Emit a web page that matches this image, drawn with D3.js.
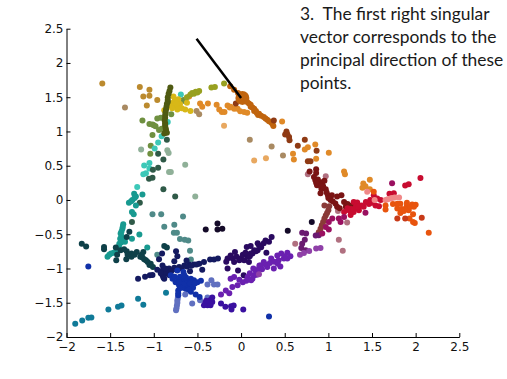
<!DOCTYPE html>
<html>
<head>
<meta charset="utf-8">
<script src="https://cdn.jsdelivr.net/npm/d3@7"></script>
<style>
body { margin: 0; background: #fff; }
svg { display: block; }
.tick text { font-family: "DejaVu Sans", sans-serif; font-size: 12px; fill: #111; }
.note { font-family: Lato, sans-serif; font-size: 17.4px; fill: #1a1a1a; white-space: pre; }
</style>
</head>
<body>
<div id="viz"></div>
<script>
var xTicks = [-2, -1.5, -1, -0.5, 0, 0.5, 1, 1.5, 2, 2.5];
var yTicks = [-2, -1.5, -1, -0.5, 0, 0.5, 1, 1.5, 2, 2.5];
var noteLines = ["3.  The first right singular", "vector corresponds to the", "principal direction of these", "points."];
var arrowLine = [[-0.51, 2.355], [0.0, 1.49]];
var centerPoint = [0.015, 1.49];

var tanPts = [[-1.59,1.70],[-1.16,1.65],[-1.05,1.61],[-1.05,1.52],[-1.12,1.51],[-0.96,1.46],[-1.08,1.38]];
var grayTanPts = [[-1.33,1.35],[-0.51,1.30],[-0.48,1.25],[0.35,0.78],[0.48,0.65],[0.10,0.88]];
var palePts = [[0.15,0.575],[0.285,0.61],[-0.195,1.085]];
var greenPts = [[-1.13,1.16],[-1.05,1.11],[-1.015,1.10],[-0.98,1.075],[-0.94,1.02],[-0.96,1.19],[-0.92,1.20],[-1.015,0.95],[-1.035,0.79],[-1.04,0.675],[-0.80,1.25],[-0.66,1.46],[-0.64,1.44],[-1.0,1.09],[-0.91,1.04]];
var paleGreenPts = [[-1.145,0.735],[-0.845,0.725],[-0.83,0.685],[-0.825,0.41],[-0.805,0.41],[-0.64,0.515],[-0.525,0.05]];
var tealDotPts = [[-0.84,1.14],[-0.91,0.93],[-0.95,0.84],[-0.99,0.75],[-1.05,0.54],[-1.11,0.505],[-1.05,0.46],[-1.09,0.39],[-1.12,0.375],[-1.19,0.19],[-0.69,1.54]];
var darkGreenPts = [[-0.95,0.675],[-0.89,0.59],[-0.95,0.47],[-0.85,0.88],[-1.055,0.31],[-1.015,0.325],[-1.01,0.44],[-0.89,0.155],[-0.755,0.05],[-1.16,-0.04],[-1.25,-0.32]];
var stalkPts = [[-0.81,1.64],[-0.82,1.59],[-0.83,1.55],[-0.84,1.50],[-0.84,1.46],[-0.84,1.43],[-0.85,1.40],[-0.855,1.36],[-0.86,1.32],[-0.865,1.28],[-0.87,1.24],[-0.87,1.20],[-0.875,1.16],[-0.87,1.12],[-0.87,1.09],[-0.865,1.05],[-0.86,1.02],[-0.88,0.97],[-0.85,0.98]];
var yellowPts = [[-0.775,1.51],[-0.805,1.38],[-0.75,1.36],[-0.71,1.37],[-0.73,1.32],[-0.88,1.31],[-0.72,1.47],[-0.78,1.42],[-0.70,1.40],[-0.76,1.45],[-0.64,1.32],[-0.58,1.30],[-0.62,1.42],[-0.79,1.34],[-0.74,1.41],[-0.68,1.34]];
var olivePts = [[-0.56,1.56],[-0.58,1.54],[-0.52,1.58],[-0.48,1.59],[-0.34,1.64],[-0.30,1.65],[-0.195,1.70],[-0.62,1.50],[-0.54,1.55],[-0.50,1.57]];
var orangePts = [[-0.595,1.51],[-0.47,1.41],[-0.445,1.36],[-0.38,1.41],[-0.28,1.39],[-0.25,1.32],[-0.22,1.285],[-0.19,1.285],[-0.155,1.38],[-0.12,1.36],[-0.08,1.33],[-0.04,1.33],[-0.01,1.295],[0.035,1.285],[0.07,1.275],[0.47,1.145],[0.595,0.675],[0.765,0.77],[0.73,0.735],[0.85,0.81],[1.005,0.69],[0.86,0.60],[1.18,0.415],[1.19,0.375],[1.475,0.295],[1.40,0.24],[1.425,0.20],[1.475,0.155],[1.39,0.18],[0.605,0.59],[-0.13,1.35],[-0.06,1.34]];
var burntPts = [[-0.125,1.66],[-0.08,1.61],[-0.035,1.56],[0.055,1.455],[0.09,1.41],[0.11,1.36],[0.13,1.35],[0.15,1.30],[0.17,1.30],[0.195,1.24],[0.205,1.26],[0.26,1.21],[0.30,1.17],[0.345,1.13],[0.37,1.08],[0.07,1.43],[0.11,1.39],[0.15,1.33],[0.18,1.27],[0.23,1.23],[0.28,1.19],[0.32,1.15],[0.36,1.11],[0.03,1.47]];
var brownPts = [[-0.06,1.41],[0.375,1.16],[0.52,1.0],[0.505,0.955],[0.55,0.92],[0.555,0.87],[0.65,0.79],[0.73,0.88],[0.865,0.72],[0.765,0.565],[0.795,0.565],[0.53,0.96]];
var darkRedPts = [[0.86,0.45],[0.785,0.415],[0.86,0.395],[0.835,0.335],[0.85,0.29],[0.89,0.25],[0.93,0.26],[0.955,0.28],[0.87,0.215],[0.92,0.165],[0.97,0.155],[0.91,0.10],[0.995,0.07],[1.04,0.07],[1.10,0.05],[1.15,0.07],[1.025,0],[1.08,-0.05],[1.18,-0.03],[1.22,-0.06],[0.88,0.30],[0.91,0.21],[0.94,0.20],[0.86,0.25],[0.98,0.11],[1.0,0.03],[1.05,-0.02],[1.10,-0.10],[1.13,-0.12],[1.2,-0.10],[1.27,-0.08]];
var mauvePts = [[0.765,0.375],[0.97,0.345],[1.11,-0.16],[1.215,-0.33],[1.12,-0.58],[1.165,-0.74],[0.62,-0.64]];
var redBrownPts = [[1.0,-0.15],[0.97,-0.225],[0.94,-0.32],[0.91,-0.42],[0.955,-0.08],[1.01,-0.09],[0.985,-0.19],[0.955,-0.27],[0.925,-0.37],[0.89,-0.47]];
var crimsonPts = [[1.29,-0.03],[1.33,-0.035],[1.18,-0.175],[1.235,-0.15],[1.29,-0.175],[1.35,-0.15],[1.405,-0.10],[1.255,-0.22],[1.465,-0.06],[1.48,0],[1.54,-0.08],[1.58,-0.09],[1.60,0],[1.52,0.07],[1.70,0.09],[1.75,0.10],[1.88,0.21],[1.92,0.23],[2.055,0.32],[1.31,-0.11],[1.26,-0.13],[1.38,-0.08],[1.43,-0.03],[1.34,-0.10],[1.22,-0.12],[1.56,0.02],[1.50,-0.04]];
var pinkPts = [[1.445,0.12],[1.53,0],[1.655,0],[1.71,0.02],[1.76,0.035],[1.81,0.035],[1.68,0.01],[1.73,0.03]];
var redOrangePts = [[1.655,-0.08],[1.655,-0.14],[1.74,-0.06],[1.79,-0.055],[1.825,-0.055],[1.79,-0.125],[1.825,-0.19],[1.865,-0.16],[1.90,-0.08],[1.96,-0.065],[2.0,-0.07],[1.92,-0.15],[1.97,-0.21],[1.93,-0.27],[1.97,-0.32],[1.99,-0.335],[2.15,-0.48],[1.52,0.12],[1.88,-0.13],[1.94,-0.10],[1.84,-0.13],[1.90,-0.04],[1.98,-0.10]];
var brickPts = [[1.79,-0.27],[1.88,-0.27],[2.07,-0.26]];
var tealPts = [[-1.225,0.09],[-1.205,0.05],[-1.245,0],[-1.285,-0.04],[-1.205,-0.08],[-1.13,0.08],[-1.25,-0.175],[-1.23,-0.21],[-1.35,-0.355],[-1.36,-0.42],[-1.38,-0.49],[-1.385,-0.565],[-1.395,-0.64],[-1.415,-0.71],[-1.33,-0.61],[-1.53,-0.83],[-1.49,-0.78],[-1.435,-0.76],[-1.165,-0.505],[-1.25,-0.565],[-1.075,-0.695],[-1.355,-0.39],[-1.37,-0.46],[-1.37,-0.53],[-1.36,-0.58],[-1.375,-0.62],[-1.40,-0.68],[-1.51,-0.80],[-1.46,-0.77],[-1.22,0.03],[-1.26,-0.02]];
var grayTealPts = [[-1.015,-0.21],[-0.915,-0.21],[-0.665,-0.24],[-0.88,-0.39],[-0.765,-0.36],[-0.77,-0.48],[-0.735,-0.48],[-0.70,-0.57],[-0.645,-0.58],[-0.605,-0.59],[-0.585,-0.74],[-0.575,-0.87],[-0.96,-0.80]];
var darkTealPts = [[-1.28,-0.465],[-1.31,-0.54],[-1.825,-0.64],[-1.775,-0.68],[-1.57,-0.685],[-1.57,-0.72],[-1.435,-0.695],[-1.38,-0.735],[-1.31,-0.75],[-1.255,-0.78],[-1.195,-0.76],[-1.12,-0.76],[-1.14,-0.80],[-1.43,-0.88],[-1.315,-0.865],[-1.255,-0.83],[-1.155,-0.83],[-1.11,-0.865],[-1.07,-0.905],[-1.035,-0.93],[-1.01,-0.98],[-0.88,-0.67],[-0.85,-0.695],[-1.34,-0.72],[-1.42,-0.80],[-1.30,-0.80],[-1.22,-0.80],[-1.09,-0.88],[-1.13,-0.84],[-1.05,-0.95]];
var lowBluePts = [[-1.90,-1.805],[-1.82,-1.76],[-1.75,-1.72],[-1.715,-1.715],[-1.52,-1.60],[-1.41,-1.56],[-1.37,-1.54],[-1.18,-1.44],[-1.12,-1.53],[-0.86,-1.355]];
var navyPts = [[-1.18,-1.15],[-1.10,-1.12],[-1.045,-1.10],[-1.015,-1.095],[-0.90,-0.955],[-0.90,-1.03],[-0.90,-1.10],[-0.88,-1.15],[-0.825,-1.0],[-0.765,-0.99],[-0.71,-0.98],[-0.65,-0.955],[-0.595,-0.94],[-0.54,-0.94],[-0.48,-0.93],[-0.425,-0.905],[-0.445,-1.02],[-0.355,-0.87],[-0.31,-0.87],[-0.265,-0.855],[-0.585,-1.04],[-0.625,-0.885],[-0.94,-0.865],[-0.905,-0.78],[-0.745,-0.75],[-0.73,-0.82],[-0.765,-0.895],[-0.85,-1.05],[-0.96,-1.02],[-0.87,-1.0],[-0.87,-1.08],[-0.80,-1.04],[-0.74,-1.02],[-0.68,-1.0],[-0.62,-0.97],[-0.57,-0.96],[-0.51,-0.94],[-0.82,-1.10],[-0.92,-1.07],[-0.89,-1.13]];
var blackPts = [[-0.405,-0.43],[-0.27,-0.345],[-0.27,-0.43],[-0.215,-0.42],[0.535,-0.45],[0.81,-0.32]];
var bluePts = [[-0.805,-1.10],[-0.785,-1.15],[-0.75,-1.20],[-0.71,-1.245],[-0.67,-1.17],[-0.73,-1.03],[-0.66,-1.05],[-0.615,-1.22],[-0.575,-1.15],[-0.54,-1.17],[-0.50,-1.20],[-0.46,-1.18],[-0.635,-1.295],[-0.575,-1.34],[-0.52,-1.38],[-0.475,-1.415],[-0.72,-1.32],[-0.72,-1.39],[-0.60,-1.26],[-0.68,-1.28],[-0.76,-1.12],[-0.62,-1.18],[0.32,-1.70],[-1.75,-0.97],[-0.70,-1.12],[-0.72,-1.17],[-0.66,-1.23],[-0.63,-1.13],[-0.58,-1.22],[-0.55,-1.28],[-0.53,-1.22],[-0.60,-1.31],[-0.70,-1.28],[-0.71,-1.20],[-0.65,-1.10],[-0.72,-1.36]];
var lightBluePts = [[-0.73,-1.465],[-0.735,-1.54],[-0.745,-1.61],[-0.64,-1.38],[-0.56,-1.51],[-0.47,-1.465],[-0.385,-1.425],[-0.385,-1.235],[-0.34,-1.17],[-0.31,-1.235],[-0.27,-1.235],[-0.725,-1.43],[-0.73,-1.50],[-0.74,-1.58]];
var indigoPts = [[-0.425,-1.535],[-0.385,-1.535],[-0.35,-1.535],[-0.33,-1.49],[-0.33,-1.425],[-0.38,-1.49],[-0.23,-1.51],[-0.18,-1.56],[-0.115,-1.55],[-0.085,-1.54],[-0.11,-1.60],[0.025,-1.60],[-0.41,-1.50],[-0.35,-1.46],[-0.36,-1.51],[-0.40,-1.47]];
var darkPurplePts = [[-0.155,-0.855],[-0.12,-0.81],[-0.07,-0.76],[-0.08,-0.905],[0,-0.855],[0.035,-0.88],[0.09,-0.905],[0.065,-0.685],[0.11,-0.67],[0.19,-0.63],[0.075,-0.83],[0.13,-0.78],[0.19,-0.735],[0.15,-0.735],[0.11,-0.78],[0.28,-0.59],[0.32,-0.61],[0.35,-0.54],[0.205,-0.66],[0.29,-0.77],[-0.155,-1.0],[-0.035,-1.03],[0.03,-1.10],[-0.10,-0.85],[-0.05,-0.83],[0.02,-0.80],[-0.02,-0.88],[0.10,-0.82],[0.17,-0.75],[0.23,-0.69],[0.26,-0.63],[-0.17,-0.90],[0.05,-0.77]];
var violetPts = [[-0.23,-1.38],[-0.175,-1.32],[-0.135,-1.36],[-0.10,-1.27],[-0.04,-1.245],[-0.12,-1.15],[-0.08,-1.125],[-0.02,-1.165],[0.02,-1.20],[0.075,-1.125],[0.115,-1.17],[0.15,-1.10],[0.19,-1.03],[0.21,-0.955],[0.13,-1.15],[0.165,-1.03],[0.205,-1.0],[0.225,-0.955],[0.26,-0.905],[0.30,-0.98],[0.345,-0.855],[0.375,-1.0],[0.415,-0.81],[0.46,-0.78],[0.43,-0.88],[0.49,-0.855],[0.53,-0.855],[0.565,-0.82],[0.45,-0.97],[0.53,-0.77],[0.10,-1.07],[0.18,-1.09],[0.24,-1.01],[0.28,-0.94],[0.33,-0.92],[0.38,-0.90],[0.42,-0.93],[0.50,-0.82],[0.14,-1.0],[0.06,-1.18]];
var plumPts = [[0.70,-0.48],[0.745,-0.49],[0.73,-0.58],[0.70,-0.64],[0.69,-0.70],[0.74,-0.735],[0.855,-0.52],[0.89,-0.515]];
var orchidPts = [[0.675,-0.80],[0.72,-0.775],[0.78,-0.745],[0.86,-0.71],[0.91,-0.70],[0.205,-1.085]];
var magentaPts = [[0.93,-0.49],[1.005,-0.43],[0.97,-0.395],[1.005,-0.32],[1.045,-0.27],[1.12,-0.27],[1.14,-0.32],[1.18,-0.25],[1.425,-0.185],[1.73,0.245]];

var groups = [tanPts, grayTanPts, palePts, orangePts, greenPts, paleGreenPts, tealDotPts, darkGreenPts, yellowPts, olivePts, stalkPts, burntPts, brownPts, mauvePts, redBrownPts, darkRedPts, crimsonPts, pinkPts, redOrangePts, brickPts, grayTealPts, tealPts, darkTealPts, lowBluePts, navyPts, blackPts, lightBluePts, bluePts, indigoPts, darkPurplePts, violetPts, plumPts, orchidPts, magentaPts];
var colors = ["#bb8a2e", "#a98a62", "#e8a860", "#e08a28", "#6f9040", "#8fb098", "#3cc8b8", "#2f5a48", "#d8b818", "#98a020", "#4f5a12", "#c0640e", "#8f3a14", "#b07080", "#8a3a38", "#7a1414", "#c80c30", "#f08888", "#e8540e", "#c83a18", "#4f8a88", "#189a90", "#0e4048", "#107a98", "#141a60", "#140a28", "#6070c0", "#1030a8", "#3a10a0", "#2a0a60", "#6a20b0", "#6a1a70", "#8f40a8", "#9a1060"];

var width = 507,
    height = 379;

var x = d3.scaleLinear().domain([-2, 2.5]).range([66.5, 459.3]);
var y = d3.scaleLinear().domain([-2, 2.5]).range([337, 28.7]);

var svg = d3.select("#viz")
  .append("svg")
    .attr("width", width)
    .attr("height", height);

var xAxis = d3.axisBottom(x)
    .tickValues(xTicks)
    .tickFormat(d3.format("~g"))
    .tickSizeInner(-4)
    .tickSizeOuter(0)
    .tickPadding(5);

var yAxis = d3.axisLeft(y)
    .tickValues(yTicks)
    .tickFormat(d3.format("~g"))
    .tickSizeInner(-4)
    .tickSizeOuter(0)
    .tickPadding(3);

svg.append("g").attr("transform", "translate(0," + y(-2) + ")").call(xAxis);
svg.append("g").attr("transform", "translate(" + x(-2) + ",0)").call(yAxis);
svg.selectAll(".domain, .tick line").attr("stroke", "#000");

groups.forEach(function(pts, i) {
    svg.append("g").selectAll("circle")
        .data(pts)
      .enter().append("circle")
        .attr("cx", function(d) { return x(d[0]); })
        .attr("cy", function(d) { return y(d[1]); })
        .attr("r", 3)
        .style("fill", colors[i]);
});

svg.append("circle")
    .attr("cx", x(centerPoint[0]))
    .attr("cy", y(centerPoint[1]))
    .attr("r", 7)
    .style("fill", "#c0640e");

svg.append("path")
    .attr("d", d3.line().x(function(d) { return x(d[0]); }).y(function(d) { return y(d[1]); })(arrowLine))
    .style("stroke", "#000")
    .style("stroke-width", 2.5)
    .style("fill", "none");

svg.selectAll(".note")
    .data(noteLines)
  .enter().append("text")
    .attr("class", "note")
    .attr("x", 300)
    .attr("y", function(d, i) { return 20 + i * 23; })
    .text(function(d) { return d; });
</script>
</body>
</html>
